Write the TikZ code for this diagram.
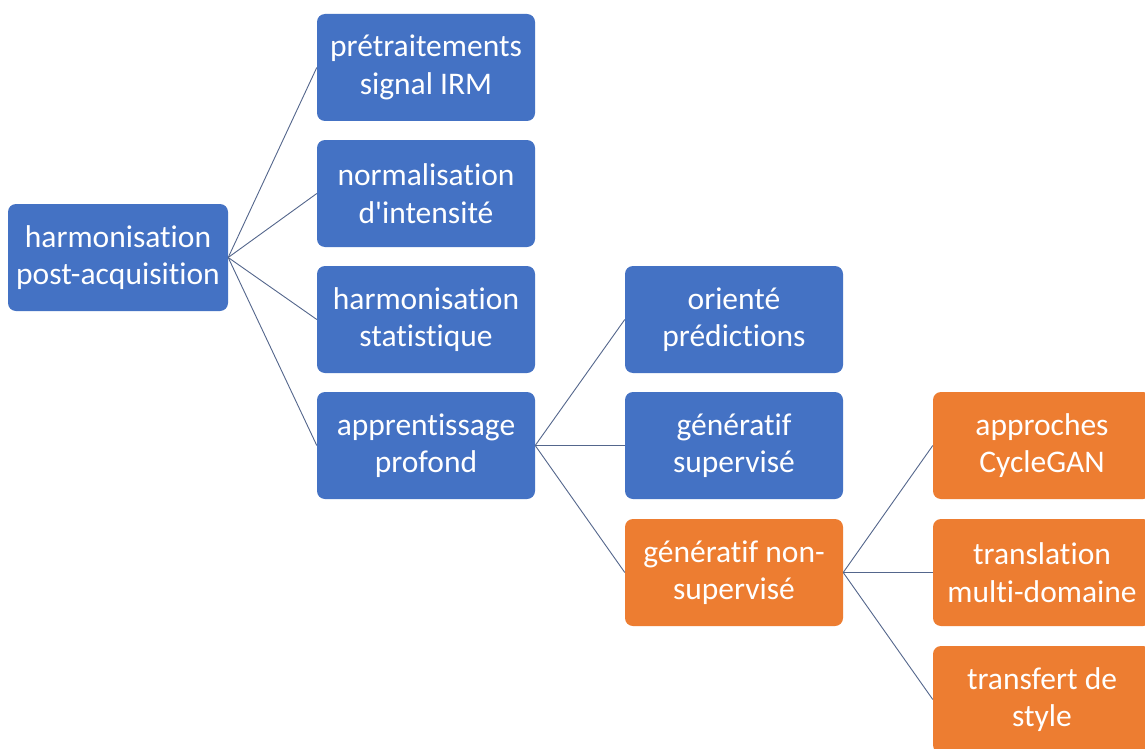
\documentclass[tikz,border=0pt]{standalone}
\usepackage{fontspec}
\setmainfont{Carlito}[Ligatures={NoCommon}]
\definecolor{boxblue}{HTML}{4472C4}
\definecolor{boxorange}{HTML}{ED7D31}
\definecolor{linkcol}{RGB}{84,102,140}
\tikzset{
  box/.style={rectangle, rounded corners=8pt, minimum width=218pt, minimum height=107pt,
    inner sep=0pt, align=center, text=white, font=\fontsize{31.5}{37.5}\selectfont},
  bluebox/.style={box, fill=boxblue},
  orangebox/.style={box, fill=boxorange},
  link/.style={draw=linkcol, line width=0.9pt}
}
\begin{document}
\begin{tikzpicture}[x=1pt,y=-1pt]
\useasboundingbox[fill=white] (0,0) rectangle (1145,749);
\clip (0,0) rectangle (1145,749);
\node[bluebox, minimum width=220pt] (root) at (118,257.5) {harmonisation\\post-acquisition};
\node[bluebox] (pre) at (426,67.5) {prétraitements\\signal IRM};
\node[bluebox] (norm) at (426,193.5) {normalisation\\d\textquotesingle intensité};
\node[bluebox] (stat) at (426,319.5) {harmonisation\\statistique};
\node[bluebox] (deep) at (426,445.5) {apprentissage\\profond};
\node[bluebox] (pred) at (734,319.5) {orienté\\prédictions};
\node[bluebox] (sup) at (734,445.5) {génératif\\supervisé};
\node[orangebox] (unsup) at (734,572.5) {génératif non-\\supervisé};
\node[orangebox] (cyc) at (1042,445.5) {approches\\CycleGAN};
\node[orangebox] (multi) at (1042,572.5) {translation\\multi-domaine};
\node[orangebox] (style) at (1042,699.5) {transfert de\\style};
\foreach \t in {pre,norm,stat,deep} \draw[link] (root.east) -- (\t.west);
\foreach \t in {pred,sup,unsup} \draw[link] (deep.east) -- (\t.west);
\foreach \t in {cyc,multi,style} \draw[link] (unsup.east) -- (\t.west);
\end{tikzpicture}
\end{document}
